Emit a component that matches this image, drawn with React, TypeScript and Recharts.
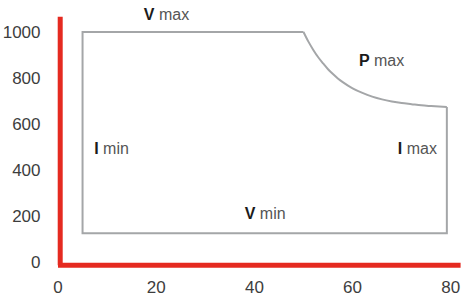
import React from "react";
import { LineChart, Line, XAxis, YAxis, ReferenceLine, ReferenceDot } from "recharts";

const xTicks = [0, 20, 40, 60, 80];
const yTicks = [0, 200, 400, 600, 800, 1000];

// straight edges of the operating envelope
const edgePoints = [
  { x: 50, y: 1000 },
  { x: 5, y: 1000 },
  { x: 5, y: 125 },
  { x: 79.2, y: 125 },
  { x: 79.2, y: 674 },
];

// P max curve
const curvePoints = [
  { x: 50, y: 1000 },
  { x: 51, y: 958 },
  { x: 52, y: 922 },
  { x: 53, y: 890 },
  { x: 54, y: 863 },
  { x: 55, y: 838 },
  { x: 56, y: 817 },
  { x: 57, y: 798 },
  { x: 58, y: 782 },
  { x: 60, y: 755 },
  { x: 62, y: 735 },
  { x: 64, y: 719 },
  { x: 66, y: 707 },
  { x: 68, y: 698 },
  { x: 70, y: 691 },
  { x: 72, y: 686 },
  { x: 74, y: 681 },
  { x: 76, y: 678 },
  { x: 79.2, y: 674 },
];

const labels = [
  { x: 22.1, y: 1052, bold: "V", rest: "max" },
  { x: 65.9, y: 853, bold: "P", rest: "max" },
  { x: 10.9, y: 468, bold: "I", rest: "min" },
  { x: 73.2, y: 468, bold: "I", rest: "max" },
  { x: 42.2, y: 186, bold: "V", rest: "min" },
];

const FONT = "'Liberation Sans', Arial, Helvetica, sans-serif";
const RED = "#e52a20";
const GREY = "#a4a6a8";

const makeLabel = (bold: string, rest: string) => (props: any) => {
  const vb = props.viewBox || {};
  const cx = (vb.x ?? 0) + (vb.width ?? 0) / 2;
  const cy = (vb.y ?? 0) + (vb.height ?? 0) / 2;
  return (
    <text x={cx} y={cy} textAnchor="middle" fontFamily={FONT} fontSize={16}>
      <tspan fontWeight="bold" fill="#1b1b1b">{bold}</tspan>
      <tspan fill="#555555">{" " + rest}</tspan>
    </text>
  );
};

export default function App() {
  return (
    <div style={{ position: "absolute", left: 0, top: 0 }}>
      <LineChart
        width={461}
        height={297}
        margin={{ top: 16.8, right: 0.4, bottom: 0, left: 0 }}
      >
        <XAxis
          type="number"
          dataKey="x"
          domain={[0, 82]}
          ticks={xTicks}
          allowDataOverflow
          axisLine={false}
          tickLine={false}
          tickSize={0}
          tickMargin={16}
          height={31.8}
          tick={{ fill: "#3d3d3d", fontSize: 17, fontFamily: FONT }}
        />
        <YAxis
          type="number"
          dataKey="y"
          domain={[-14, 1066]}
          ticks={yTicks}
          allowDataOverflow
          axisLine={false}
          tickLine={false}
          tickSize={0}
          tickMargin={17.5}
          width={58}
          tick={{ fill: "#3d3d3d", fontSize: 17, fontFamily: FONT }}
        />
        <Line
          data={edgePoints}
          dataKey="y"
          type="linear"
          stroke={GREY}
          strokeWidth={2}
          dot={false}
          activeDot={false}
          isAnimationActive={false}
        />
        <Line
          data={curvePoints}
          dataKey="y"
          type="monotone"
          stroke={GREY}
          strokeWidth={2}
          dot={false}
          activeDot={false}
          isAnimationActive={false}
        />
        <ReferenceLine
          segment={[{ x: 0.45, y: -14 }, { x: 0.45, y: 1066 }]}
          stroke={RED}
          strokeWidth={5}
        />
        <ReferenceLine
          segment={[{ x: 0, y: -14 }, { x: 82, y: -14 }]}
          stroke={RED}
          strokeWidth={5}
        />
        {labels.map((l, i) => (
          <ReferenceDot
            key={i}
            x={l.x}
            y={l.y}
            r={0}
            fill="none"
            stroke="none"
            label={{ content: makeLabel(l.bold, l.rest) }}
          />
        ))}
      </LineChart>
    </div>
  );
}
